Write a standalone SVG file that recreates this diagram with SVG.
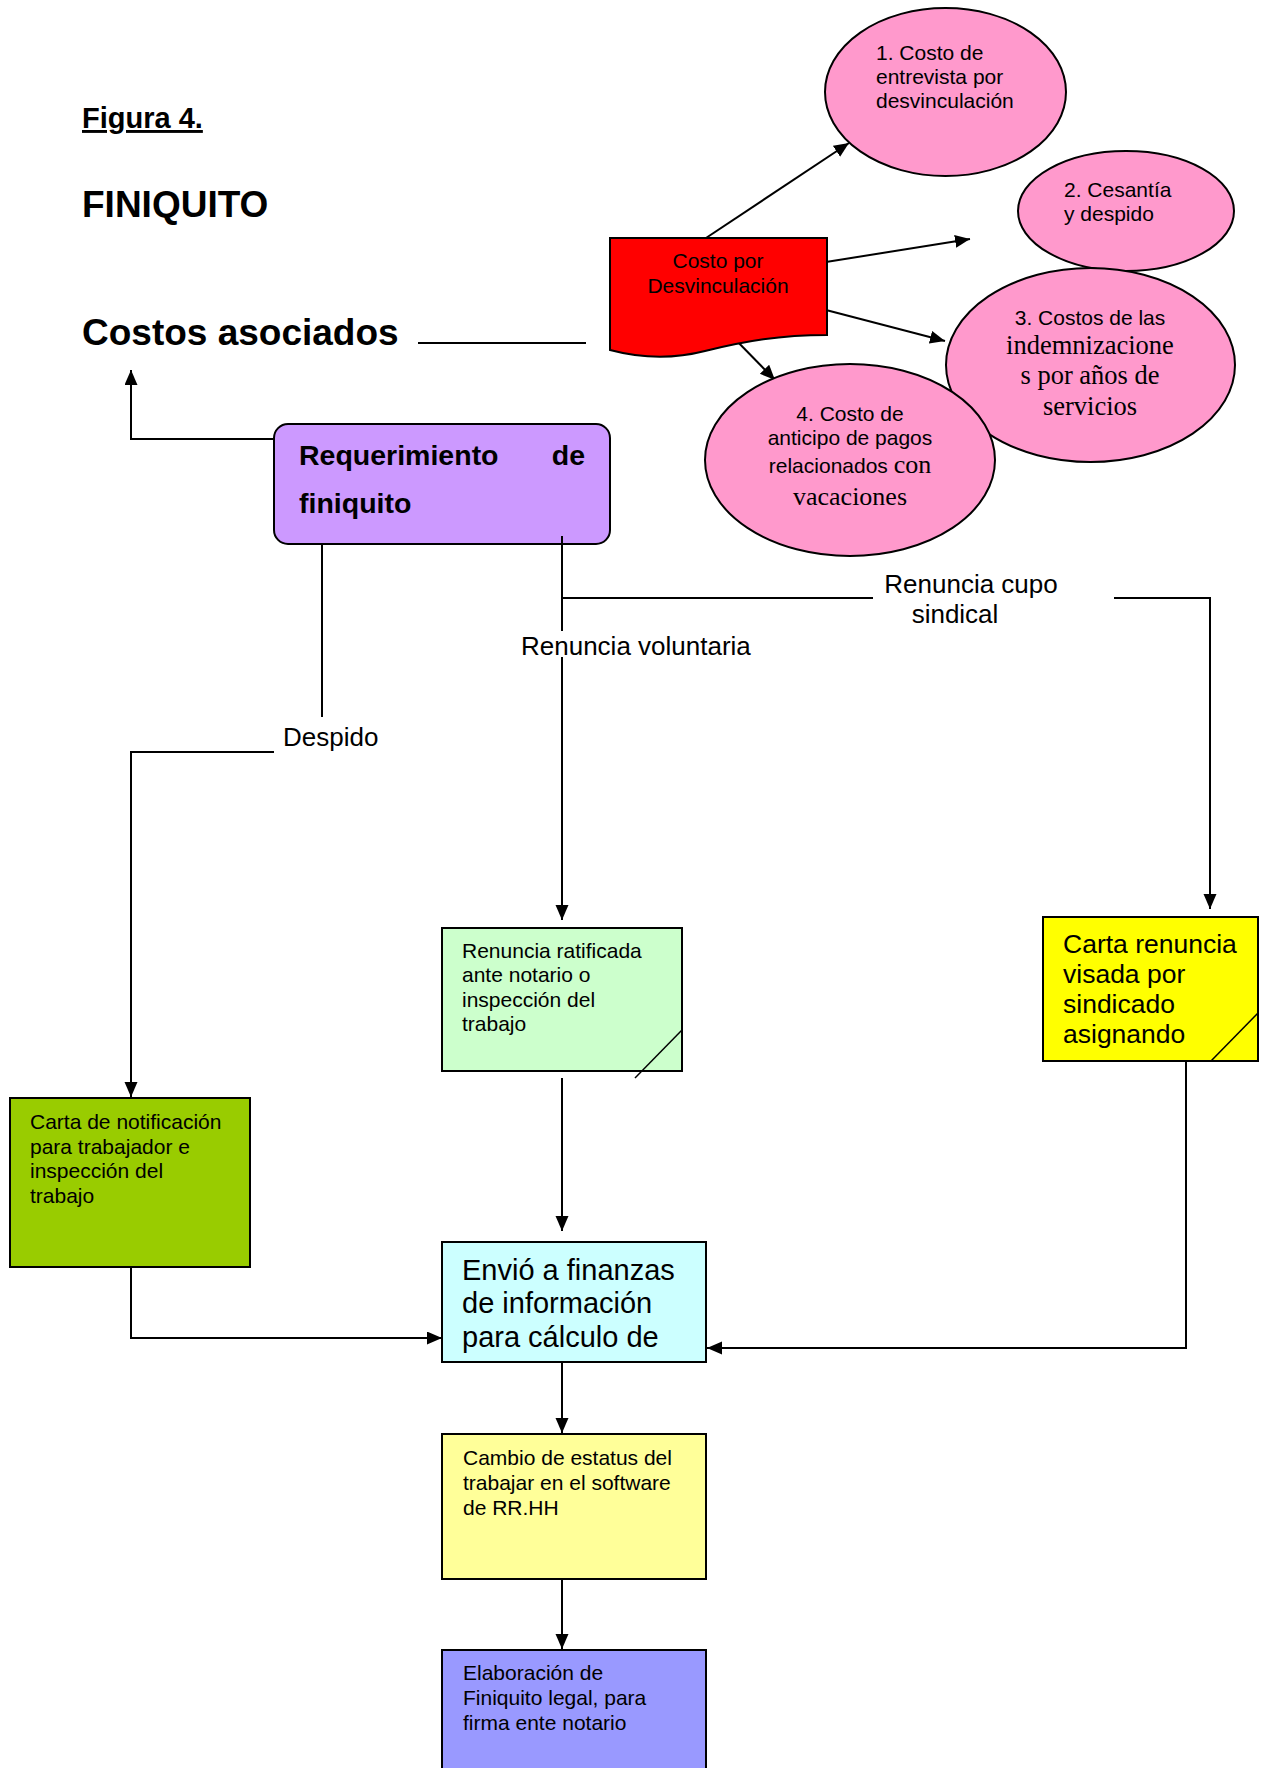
<svg xmlns="http://www.w3.org/2000/svg" width="1266" height="1768" viewBox="0 0 1266 1768">
<style>
.s{font-family:"Liberation Sans",Arial,sans-serif;fill:#000}
.r{font-family:"Liberation Serif","Times New Roman",serif;fill:#000}
.b{font-weight:bold}
.box{stroke:#000;stroke-width:2}
.ln{stroke:#000;stroke-width:2;fill:none}
.arr{stroke:#000;stroke-width:2;fill:none;marker-end:url(#ah)}
</style>
<defs>
<marker id="ah" markerUnits="userSpaceOnUse" markerWidth="16" markerHeight="14" refX="15" refY="6.5" orient="auto">
<path d="M0,0 L15,6.5 L0,13 z" fill="#000"/>
</marker>
</defs>
<rect width="1266" height="1768" fill="#fff"/>

<g id="titles">
<text class="s b" x="82" y="128" font-size="29" text-decoration="underline">Figura 4.</text>
<text class="s b" x="82" y="217" font-size="37">FINIQUITO</text>
<text class="s b" x="82" y="345" font-size="37">Costos asociados</text>
</g>

<g id="connectors">
<line class="ln" x1="418" y1="343" x2="586" y2="343"/>
<polyline class="arr" points="274,439 131,439 131,370"/>
<line class="ln" x1="322" y1="544" x2="322" y2="717"/>
<polyline class="arr" points="274,752 131,752 131,1097"/>
<line class="ln" x1="562" y1="536" x2="562" y2="631"/>
<line class="arr" x1="562" y1="657" x2="562" y2="920"/>
<line class="ln" x1="562" y1="598" x2="873" y2="598"/>
<polyline class="arr" points="1114,598 1210,598 1210,909"/>
<line class="arr" x1="562" y1="1078" x2="562" y2="1231"/>
<polyline class="arr" points="131,1267 131,1338 442,1338"/>
<polyline class="arr" points="1186,1061 1186,1348 707,1348"/>
<line class="arr" x1="562" y1="1362" x2="562" y2="1433"/>
<line class="arr" x1="562" y1="1579" x2="562" y2="1649"/>
<line class="arr" x1="706" y1="238" x2="849" y2="143"/>
<line class="arr" x1="826" y1="262" x2="970" y2="239"/>
<line class="arr" x1="826" y1="310" x2="945" y2="341"/>
<line class="arr" x1="731" y1="335" x2="775" y2="380"/>
</g>

<g id="n_ell1">
<ellipse class="box" cx="945.5" cy="92" rx="120.5" ry="84" fill="#FF99CC"/>
<text class="s" font-size="21"><tspan x="876" y="60">1. Costo de</tspan><tspan x="876" y="84">entrevista por</tspan><tspan x="876" y="108">desvinculación</tspan></text>
</g>
<g id="n_ell2">
<ellipse class="box" cx="1126" cy="211" rx="108" ry="60" fill="#FF99CC"/>
<text class="s" font-size="21"><tspan x="1064" y="197">2. Cesantía</tspan><tspan x="1064" y="221">y despido</tspan></text>
</g>
<g id="n_ell3">
<ellipse class="box" cx="1090.5" cy="365" rx="144.5" ry="97" fill="#FF99CC"/>
<text class="s" font-size="21" x="1090" y="325" text-anchor="middle">3. Costos de las</text>
<text class="r" font-size="26.5" text-anchor="middle"><tspan x="1090" y="354">indemnizacione</tspan><tspan x="1090" y="384">s por años de</tspan><tspan x="1090" y="415">servicios</tspan></text>
</g>
<g id="n_ell4">
<ellipse class="box" cx="850" cy="460" rx="145" ry="96" fill="#FF99CC"/>
<text class="s" font-size="21" text-anchor="middle"><tspan x="850" y="421">4. Costo de</tspan><tspan x="850" y="445">anticipo de pagos</tspan></text>
<text x="850" y="473" text-anchor="middle"><tspan class="s" font-size="21">relacionados </tspan><tspan class="r" font-size="26">con</tspan></text>
<text class="r" font-size="26" x="850" y="505" text-anchor="middle">vacaciones</text>
</g>

<g id="n_costo">
<path class="box" d="M610,238 L827,238 L827,335 C780,335 745,341 705,351 C670,360 640,358 610,350 Z" fill="#FF0000"/>
<text class="s" font-size="21" text-anchor="middle"><tspan x="718" y="268">Costo por</tspan><tspan x="718" y="293">Desvinculación</tspan></text>
</g>

<g id="n_req">
<rect class="box" x="274" y="424" width="336" height="120" rx="14" fill="#CC99FF"/>
<line class="ln" x1="562" y1="536" x2="562" y2="544"/>
<text class="s b" font-size="28.5" x="299" y="465">Requerimiento</text>
<text class="s b" font-size="28.5" x="585" y="465" text-anchor="end">de</text>
<text class="s b" font-size="28.5" x="299" y="513">finiquito</text>
</g>

<g id="labels">
<text class="s" font-size="26" x="521" y="655">Renuncia voluntaria</text>
<text class="s" font-size="26" x="283" y="746">Despido</text>
<text class="s" font-size="26" text-anchor="middle"><tspan x="971" y="593">Renuncia cupo</tspan><tspan x="955" y="623">sindical</tspan></text>
</g>

<g id="n_ratif">
<rect class="box" x="442" y="928" width="240" height="143" fill="#CCFFCC"/>
<line x1="682" y1="1030" x2="635" y2="1078" stroke="#000" stroke-width="1.5"/>
<text class="s" font-size="21"><tspan x="462" y="958">Renuncia ratificada</tspan><tspan x="462" y="982">ante notario o</tspan><tspan x="462" y="1007">inspección del</tspan><tspan x="462" y="1031">trabajo</tspan></text>
</g>

<g id="n_carta_renuncia">
<rect class="box" x="1043" y="917" width="215" height="144" fill="#FFFF00"/>
<line x1="1258" y1="1013" x2="1211" y2="1061" stroke="#000" stroke-width="1.5"/>
<text class="s" font-size="26.5"><tspan x="1063" y="953">Carta renuncia</tspan><tspan x="1063" y="983">visada por</tspan><tspan x="1063" y="1013">sindicado</tspan><tspan x="1063" y="1043">asignando</tspan></text>
</g>

<g id="n_carta_notif">
<rect class="box" x="10" y="1098" width="240" height="169" fill="#99CC00"/>
<text class="s" font-size="21"><tspan x="30" y="1129">Carta de notificación</tspan><tspan x="30" y="1154">para trabajador e</tspan><tspan x="30" y="1178">inspección del</tspan><tspan x="30" y="1203">trabajo</tspan></text>
</g>

<g id="n_envio">
<rect class="box" x="442" y="1242" width="264" height="120" fill="#CCFFFF"/>
<text class="s" font-size="29"><tspan x="462" y="1280">Envió a finanzas</tspan><tspan x="462" y="1313">de información</tspan><tspan x="462" y="1347">para cálculo de</tspan></text>
</g>

<g id="n_cambio">
<rect class="box" x="442" y="1434" width="264" height="145" fill="#FFFF99"/>
<text class="s" font-size="21"><tspan x="463" y="1465">Cambio de estatus del</tspan><tspan x="463" y="1490">trabajar en el software</tspan><tspan x="463" y="1515">de RR.HH</tspan></text>
</g>

<g id="n_elab">
<rect class="box" x="442" y="1650" width="264" height="130" fill="#9999FF"/>
<text class="s" font-size="21"><tspan x="463" y="1680">Elaboración de</tspan><tspan x="463" y="1705">Finiquito legal, para</tspan><tspan x="463" y="1730">firma ente notario</tspan></text>
</g>
</svg>
